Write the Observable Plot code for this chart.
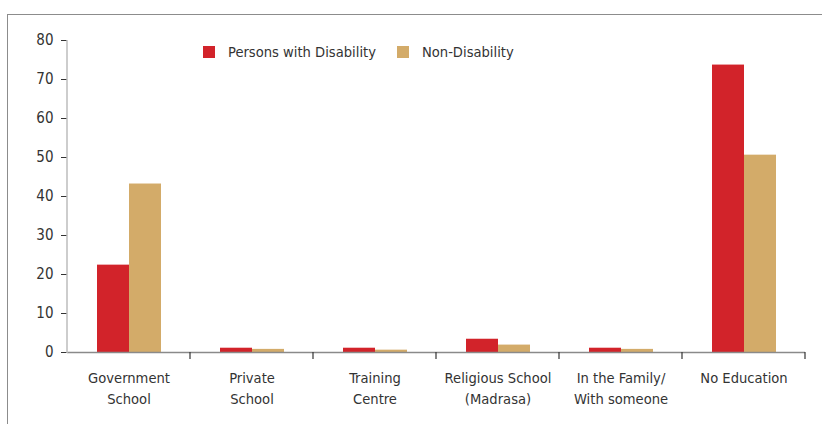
<!DOCTYPE html>
<html><head><meta charset="utf-8">
<script src="https://cdn.jsdelivr.net/npm/d3@7"></script>
<script src="https://cdn.jsdelivr.net/npm/@observablehq/plot@0.6"></script>
<style>
body{margin:0;background:#fff;font-family:"Liberation Sans Narrow","DejaVu Sans Condensed",sans-serif;}
#wrap{position:relative;width:822px;height:424px;overflow:hidden;}
#frame{position:absolute;left:7px;top:14px;width:830px;height:430px;border-left:1.5px solid #8c8c8c;border-top:1.5px solid #8c8c8c;pointer-events:none;}
#chart{position:absolute;left:0;top:0;}
#legend{position:absolute;top:43px;left:203px;display:flex;align-items:center;font-size:14.6px;color:#333;white-space:nowrap;}
#legend .sw{display:inline-block;width:12px;height:12px;margin-right:13px;}
#legend .item{display:flex;align-items:center;margin-right:21px;}
</style></head>
<body>
<div id="wrap">
  <div id="chart"></div>
  <div id="frame"></div>
  <div id="legend"></div>
</div>
<script>
const categories = ["Government\nSchool","Private\nSchool","Training\nCentre","Religious School\n(Madrasa)","In the Family/\nWith someone","No Education"];
const series = ["Persons with Disability","Non-Disability"];
const colors = ["#d2232a","#d3ab69"];
const disability = [22.4, 1.1, 1.1, 3.4, 1.1, 73.7];
const nonDisability = [43.2, 0.8, 0.6, 1.9, 0.8, 50.6];
const yTicks = [0,10,20,30,40,50,60,70,80];

const data = [];
categories.forEach((c,i)=>{
  data.push({category:c, series:series[0], value:disability[i]});
  data.push({category:c, series:series[1], value:nonDisability[i]});
});

const plot = Plot.plot({
  width: 822,
  height: 424,
  marginTop: 40,
  marginBottom: 72,
  marginLeft: 67,
  marginRight: 17,
  style: {fontFamily: '"Liberation Sans Narrow","DejaVu Sans Condensed",sans-serif', fontSize: "15px", color: "#333", background: "transparent"},
  fx: {domain: categories, padding: 0, label: null},
  x: {domain: series, paddingInner: 0, paddingOuter: 0.92, axis: null},
  y: {domain: [0, 80], label: null},
  color: {domain: series, range: colors},
  marks: [
    Plot.barY(data, {fx: "category", x: "series", y: "value", fill: "series"}),
    Plot.ruleY([0], {stroke: "#8a8a8a", strokeWidth: 1.5}),
    Plot.axisY({ticks: yTicks, tickSize: 6, tickPadding: 8, stroke: "#333", fontSize: 15, label: null}),
    Plot.axisFx({anchor: "bottom", tickSize: 0, tickPadding: 15, lineHeight: 1.48, fontSize: 14.6, label: null})
  ]
});
document.getElementById("chart").appendChild(plot);

// axis line and band-boundary ticks from the scales
const fx = plot.scale("fx"), y = plot.scale("y");
const svg = d3.select(plot);
const y0 = y.apply(0), yTop = y.apply(80);
const x0 = fx.apply(categories[0]);
svg.append("line").attr("x1", x0).attr("x2", x0).attr("y1", yTop).attr("y2", y0 + 1)
  .attr("stroke", "#bdbdbd").attr("stroke-width", 1.5);
const bounds = categories.map(c => fx.apply(c)).concat([fx.apply(categories[categories.length-1]) + fx.bandwidth]);
bounds.forEach((bx, i) => {
  if (i === 0) return;
  svg.append("line").attr("x1", bx).attr("x2", bx).attr("y1", y0).attr("y2", y0 + 7)
    .attr("stroke", "#333").attr("stroke-width", 1.2);
});

const legend = document.getElementById("legend");
series.forEach((s,i)=>{
  const it = document.createElement("div"); it.className="item";
  const sw = document.createElement("span"); sw.className="sw"; sw.style.background=colors[i];
  it.appendChild(sw); it.appendChild(document.createTextNode(s));
  legend.appendChild(it);
});
</script>
</body></html>
